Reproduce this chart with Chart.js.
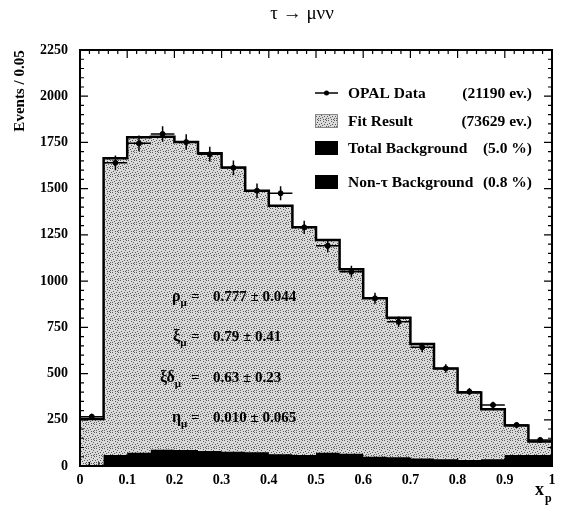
<!DOCTYPE html>
<html>
<head>
<meta charset="utf-8">
<script src="https://cdn.jsdelivr.net/npm/chart.js@4"></script>
<style>
  html, body { margin: 0; padding: 0; background: #fff; }
  #wrap { width: 562px; height: 510px; }
</style>
</head>
<body>
<div id="wrap"><canvas id="chart" width="562" height="510"></canvas></div>
<script>
// histogram bins in x_p (width 0.05)
const binEdges = [0, 0.05, 0.1, 0.15, 0.2, 0.25, 0.3, 0.35, 0.4, 0.45, 0.5,
                  0.55, 0.6, 0.65, 0.7, 0.75, 0.8, 0.85, 0.9, 0.95, 1];
const binCenters = [0.025, 0.075, 0.125, 0.175, 0.225, 0.275, 0.325, 0.375, 0.425, 0.475,
                    0.525, 0.575, 0.625, 0.675, 0.725, 0.775, 0.825, 0.875, 0.925, 0.975];

// values
const fitValues = [254, 1665, 1778, 1781, 1752, 1691, 1615, 1489, 1408, 1291,
                   1222, 1064, 907, 802, 660, 528, 398, 307, 219, 132];
const dataValues = [267, 1640, 1745, 1796, 1752, 1686, 1613, 1489, 1475, 1291,
                    1191, 1051, 907, 780, 642, 528, 402, 330, 222, 141];
const dataErrors = [16, 40, 42, 42, 42, 41, 40, 39, 38, 36,
                    35, 32, 30, 28, 25, 23, 20, 18, 15, 12];
const totalBackground = [3, 60, 72, 88, 86, 81, 77, 74, 63, 60,
                         72, 66, 50, 47, 41, 36, 32, 36, 60, 60];
const nonTauBackground = [1, 12, 14, 15, 15, 14, 14, 13, 12, 11,
                          11, 10, 9, 8, 7, 6, 6, 6, 8, 8];

const xTickLabels = ['0', '0.1', '0.2', '0.3', '0.4', '0.5', '0.6', '0.7', '0.8', '0.9', '1'];
const yTickLabels = ['0', '250', '500', '750', '1000', '1250', '1500', '1750', '2000', '2250'];

const legendLabels = ['OPAL Data', 'Fit Result', 'Total Background', 'Non-\u03c4 Background'];
const legendCounts = ['(21190 ev.)', '(73629 ev.)', '(5.0 %)', '(0.8 %)'];

const paramSymbols = ['\u03c1', '\u03be', '\u03be\u03b4', '\u03b7'];
const paramValues = ['0.777 \u00b1 0.044', '0.79 \u00b1 0.41', '0.63 \u00b1 0.23', '0.010 \u00b1 0.065'];

const SERIF = '"Liberation Serif", "DejaVu Serif", serif';

function makeStipple(ctx) {
  const c = document.createElement('canvas');
  c.width = 8; c.height = 8;
  const g = c.getContext('2d');
  g.fillStyle = '#dadada';
  g.fillRect(0, 0, 8, 8);
  g.fillStyle = '#5a5a5a';
  [[0,0],[3,1],[6,0],[1,3],[5,2],[7,4],[2,5],[4,4],[0,6],[6,6],[3,7],[5,7]]
    .forEach(([x, y]) => g.fillRect(x, y, 1, 1));
  return ctx.createPattern(c, 'repeat');
}

function steps(values) {
  const pts = values.map((v, i) => ({ x: binEdges[i], y: v }));
  pts.push({ x: binEdges[binEdges.length - 1], y: values[values.length - 1] });
  return pts;
}

const ctx = document.getElementById('chart').getContext('2d');
const stipple = makeStipple(ctx);

const decorations = {
  id: 'decorations',
  afterDatasetsDraw(chart) {
    // error bars on the data points
    const { ctx } = chart;
    const xs = chart.scales.x, ys = chart.scales.y;
    ctx.save();
    ctx.strokeStyle = '#000';
    ctx.lineWidth = 1.5;
    dataValues.forEach((v, i) => {
      const px = xs.getPixelForValue(binCenters[i]);
      const py = ys.getPixelForValue(v);
      ctx.beginPath();
      ctx.moveTo(xs.getPixelForValue(binCenters[i] - 0.025), py);
      ctx.lineTo(xs.getPixelForValue(binCenters[i] + 0.025), py);
      ctx.moveTo(px, ys.getPixelForValue(v - dataErrors[i]));
      ctx.lineTo(px, ys.getPixelForValue(v + dataErrors[i]));
      ctx.stroke();
    });
    ctx.restore();
  },
  afterDraw(chart) {
    const { ctx, chartArea: a } = chart;
    const xs = chart.scales.x, ys = chart.scales.y;
    ctx.save();
    ctx.strokeStyle = '#000';
    ctx.fillStyle = '#000';

    // inward ticks on all four sides
    ctx.lineWidth = 1.2;
    ctx.beginPath();
    for (let k = 0; k <= 50; k++) {
      const px = xs.getPixelForValue(k * 0.02);
      const len = k % 5 === 0 ? 8 : 4;
      ctx.moveTo(px, a.bottom); ctx.lineTo(px, a.bottom - len);
      ctx.moveTo(px, a.top); ctx.lineTo(px, a.top + len);
    }
    for (let k = 0; k <= 45; k++) {
      const py = ys.getPixelForValue(k * 50);
      const len = k % 5 === 0 ? 8 : 4;
      ctx.moveTo(a.left, py); ctx.lineTo(a.left + len, py);
      ctx.moveTo(a.right, py); ctx.lineTo(a.right - len, py);
    }
    ctx.stroke();

    // frame
    ctx.lineWidth = 2;
    ctx.strokeRect(a.left, a.top, a.right - a.left, a.bottom - a.top);

    // title
    ctx.font = '19px ' + SERIF;
    ctx.textAlign = 'center';
    ctx.textBaseline = 'middle';
    ctx.fillText('\u03c4 \u2192 \u03bc\u03bd\u03bd', 302, 14);

    // y axis title
    ctx.save();
    ctx.translate(20, 91);
    ctx.rotate(-Math.PI / 2);
    ctx.font = 'bold 15px ' + SERIF;
    ctx.fillText('Events / 0.05', 0, 0);
    ctx.restore();

    // x axis title x_p
    ctx.textAlign = 'left';
    ctx.font = 'bold 18px ' + SERIF;
    ctx.fillText('x', 535, 490);
    ctx.font = 'bold 12px ' + SERIF;
    ctx.fillText('p', 545, 499);

    // legend
    const rows = [93, 121, 148, 182];
    rows.forEach((ry, i) => {
      if (i === 0) {
        ctx.lineWidth = 1.5;
        ctx.beginPath();
        ctx.moveTo(315, ry); ctx.lineTo(338, ry);
        ctx.stroke();
        ctx.beginPath();
        ctx.arc(326.5, ry, 2.5, 0, Math.PI * 2);
        ctx.fill();
      } else if (i === 1) {
        ctx.fillStyle = stipple;
        ctx.fillRect(315, ry - 7, 23, 14);
        ctx.lineWidth = 1;
        ctx.strokeStyle = '#888';
        ctx.strokeRect(315.5, ry - 6.5, 22, 13);
        ctx.strokeStyle = '#000';
        ctx.fillStyle = '#000';
      } else {
        ctx.fillRect(315, ry - 7, 23, 14);
      }
      ctx.font = 'bold 15.5px ' + SERIF;
      ctx.textAlign = 'left';
      ctx.fillText(legendLabels[i], 348, ry + 1);
      ctx.textAlign = 'right';
      ctx.fillText(legendCounts[i], 532, ry + 1);
    });

    // fit parameters
    const py = [914, 698, 476, 260];
    const symStart = [172, 173, 160, 172];
    paramSymbols.forEach((s, i) => {
      const y = ys.getPixelForValue(py[i]);
      ctx.textAlign = 'left';
      ctx.font = 'bold 16px ' + SERIF;
      ctx.fillText(s, symStart[i], y);
      const w = ctx.measureText(s).width;
      ctx.font = 'bold 11px ' + SERIF;
      ctx.fillText('\u03bc', symStart[i] + w, y + 6);
      ctx.font = 'bold 15px ' + SERIF;
      ctx.fillText('=', xs.getPixelForValue(0.235), y);
      ctx.fillText(paramValues[i], xs.getPixelForValue(0.282), y);
    });
    ctx.restore();
  }
};

new Chart(ctx, {
  type: 'scatter',
  data: {
    datasets: [
      {
        label: 'OPAL Data',
        data: dataValues.map((v, i) => ({ x: binCenters[i], y: v })),
        showLine: false,
        pointRadius: 2.5,
        pointBackgroundColor: '#000',
        pointBorderColor: '#000',
        order: 0,
      },
      {
        label: 'Non-\u03c4 Background',
        type: 'line',
        data: steps(nonTauBackground),
        stepped: true,
        fill: 'origin',
        backgroundColor: '#000',
        borderWidth: 0,
        pointRadius: 0,
        order: 1,
      },
      {
        label: 'Total Background',
        type: 'line',
        data: steps(totalBackground),
        stepped: true,
        fill: 'origin',
        backgroundColor: '#000',
        borderColor: '#000',
        borderWidth: 0,
        pointRadius: 0,
        order: 2,
      },
      {
        label: 'Fit Result',
        type: 'line',
        data: steps(fitValues),
        stepped: true,
        fill: 'origin',
        backgroundColor: stipple,
        borderColor: '#000',
        borderWidth: 2.5,
        pointRadius: 0,
        order: 3,
      },
    ],
  },
  options: {
    responsive: false,
    animation: false,
    layout: { padding: { top: 50, right: 10, left: 0, bottom: 0 } },
    plugins: { legend: { display: false }, tooltip: { enabled: false } },
    scales: {
      x: {
        type: 'linear',
        min: 0,
        max: 1,
        grid: { display: false, drawTicks: false },
        border: { display: false },
        ticks: {
          stepSize: 0.1,
          padding: 6,
          color: '#000',
          font: { family: SERIF, size: 14, weight: 'bold' },
          maxRotation: 0,
          callback: (v, i) => xTickLabels[i],
        },
        afterFit: (scale) => { scale.height = 44; },
      },
      y: {
        min: 0,
        max: 2250,
        grid: { display: false, drawTicks: false },
        border: { display: false },
        ticks: {
          stepSize: 250,
          padding: 12,
          color: '#000',
          font: { family: SERIF, size: 14, weight: 'bold' },
          callback: (v, i) => yTickLabels[i],
        },
        afterFit: (scale) => { scale.width = 80; },
      },
    },
  },
  plugins: [decorations],
});
</script>
</body>
</html>
